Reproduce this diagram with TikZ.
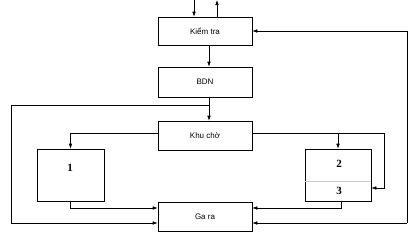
\documentclass[tikz,border=0pt]{standalone}
\usepackage{fontspec}
\setmainfont{Liberation Serif}
\setsansfont{Liberation Sans}
\usetikzlibrary{calc, arrows.meta, positioning}

\tikzset{
  box/.style={draw, line width=0.6pt, rectangle, inner sep=0pt, font=\sffamily\fontsize{8}{9}\selectfont},
  numtext/.style={font=\rmfamily\bfseries\fontsize{11}{12}\selectfont},
  arr/.style={-{Latex[length=5pt,width=3.6pt]}},
  wire/.style={line width=0.6pt}
}

\begin{document}
\begin{tikzpicture}[x=1pt, y=-1pt]
  \useasboundingbox (0,0) rectangle (414,236);
  % main column
  \node[box, minimum width=94pt, minimum height=28pt] (kiem) at (205,31) {Kiểm tra};
  \node[box, minimum width=94pt, minimum height=30pt] (bdn) at (205,82) {BDN};
  \node[box, minimum width=94pt, minimum height=29pt] (khu) at (205,135.5) {Khu chờ};
  \node[box, minimum width=94pt, minimum height=29pt] (gara) at (205,216.5) {Ga ra};
  % side boxes
  \node[box, minimum width=67pt, minimum height=52pt] (one) at (70.5,175) {};
  \node[numtext] at (70,168) {1};
  \node[box, minimum width=66pt, minimum height=52pt] (two) at (338,175) {};
  \draw[gray!40, line width=0.5pt] (two.west |- 0,181) -- (two.east |- 0,181);
  \node[numtext] (lbltwo) at (339,164) {2};
  \node[numtext] (lblthree) at (339,191) {3};

  \coordinate (split) at (209,105);
  \coordinate (rturn) at (384,188);
  \coordinate (outer) at (407,223);
  \coordinate (inlet) at (194,0);
  \coordinate (outlet) at (217,0);

  \draw[wire, arr] (inlet) -- (kiem.north -| inlet);
  \draw[wire, arr] (kiem.north -| outlet) -- (outlet);
  \draw[wire, arr] ([xshift=4pt]kiem.south) -- ([xshift=4pt]bdn.north);
  \draw[wire, arr] ([xshift=4pt]bdn.south) -- ([xshift=4pt]khu.north);
  \draw[wire, arr] (split) -- (11,105) |- ([yshift=-6.5pt]gara.west);
  \draw[wire, arr] ([yshift=2pt]khu.west) -| (one.north);
  \draw[wire, arr] (one.south) |- ([yshift=8.5pt]gara.west);
  \draw[wire, arr] ([yshift=2pt]khu.east) -| (rturn) -- (rturn -| two.east);
  \draw[wire, arr] ([yshift=2pt]khu.east -| two.north) -- (two.north);
  \draw[wire, arr] ([xshift=3pt]two.south) |- ([yshift=8.5pt]gara.east);
  \draw[wire, arr] (outer) -- ([yshift=-6.5pt]gara.east);
  \draw[wire, arr] (outer) |- (kiem.east);
\end{tikzpicture}
\end{document}
